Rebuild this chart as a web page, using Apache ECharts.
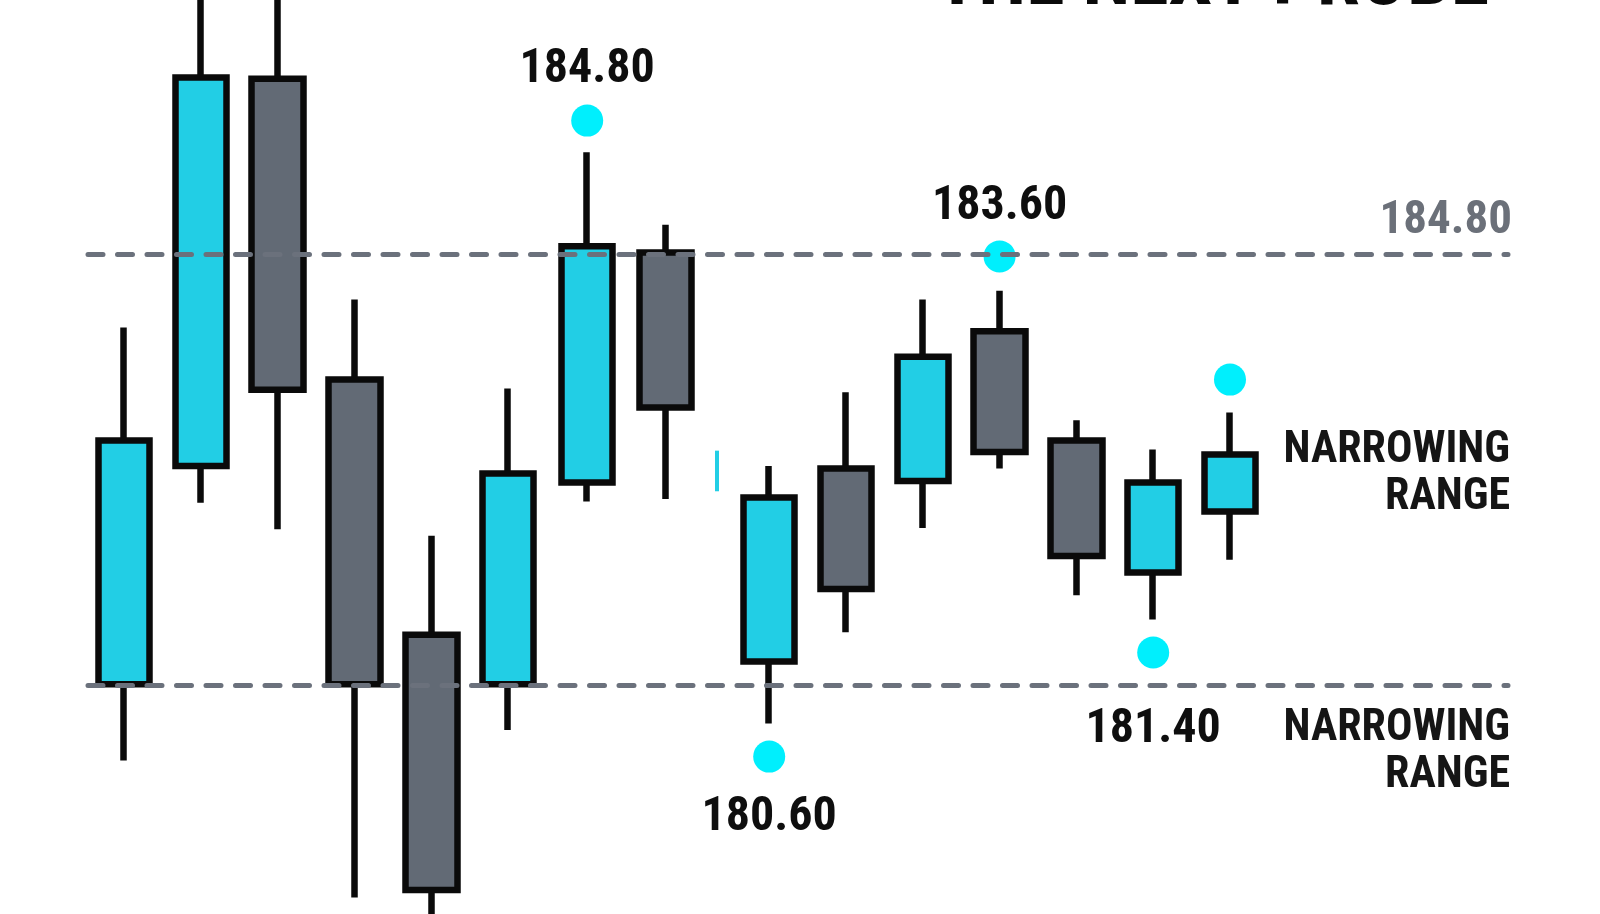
<!DOCTYPE html>
<html>
<head>
<meta charset="utf-8">
<style>
  html, body { margin: 0; padding: 0; background: #ffffff; }
  #chart { width: 1600px; height: 914px; }
</style>
<script src="https://cdn.jsdelivr.net/npm/echarts@6/dist/echarts.min.js"></script>
</head>
<body>
<div id="chart"></div>
<script>
// ---- data ----
const title = 'THE NEXT PROBE';
const slots = [0, 1, 2, 3, 4, 5, 6.03, 7.05, 8.4, 9.4, 10.4, 11.4, 12.4, 13.4, 14.4];
const openP  = [181.41, 183.13, 186.18, 183.81, 181.80, 181.41, 183.00, 184.81, 181.59, 183.11, 183.01, 184.19, 183.33, 182.29, 182.77];
const closeP = [183.33, 186.19, 183.73, 181.41, 179.79, 183.07, 184.86, 183.59, 182.88, 182.16, 183.99, 183.24, 182.42, 183.00, 183.22];
const lowP   = [180.81, 182.84, 182.63, 179.73, 179.24, 181.05, 182.85, 182.87, 181.10, 181.82, 182.64, 183.11, 182.11, 181.92, 182.39];
const highP  = [184.22, 187.20, 187.20, 184.44, 182.58, 183.74, 185.60, 185.03, 183.13, 183.71, 184.44, 184.51, 183.49, 183.26, 183.55];

const pivotSlots  = [6.03, 8.4, 11.4, 13.4, 14.4];
const pivotValues = [185.85, 180.84, 184.78, 181.66, 183.81];
const pivotLabels = ['184.80', '180.60', '183.60', '181.40', ''];

const levels      = [184.80, 181.40];
const levelLabels = ['184.80', ''];

const tickSlot   = [7.72, 7.72];
const tickValues = [183.25, 182.93];

const zoneLabels = ['NARROWING\nRANGE', 'NARROWING\nRANGE'];

// ---- styles ----
const FONT = "'Roboto Condensed', 'Liberation Sans Narrow', 'DejaVu Sans Condensed', 'Liberation Sans', sans-serif";
const CYAN = '#22CEE5';
const GRAY = '#626A75';
const INK = '#0A0A0A';
const DOT = '#00EFFD';
const pivotOffsets = [[0, -51], [0, 61], [0, -49], [0, 78], [0, 0]];

const candleData = slots.map((s, i) => [s, openP[i], closeP[i], lowP[i], highP[i]]);
const pivotData = pivotSlots.map((s, i) => ({
  value: [s, pivotValues[i]],
  label: { show: pivotLabels[i] !== '', formatter: pivotLabels[i], offset: pivotOffsets[i] }
}));

const chart = echarts.init(document.getElementById('chart'), null, { renderer: 'canvas' });
chart.setOption({
  backgroundColor: '#ffffff',
  animation: false,
  grid: { left: 88, right: 92, top: 0, bottom: 0, containLabel: false },
  xAxis: { type: 'value', min: -0.47, max: 18.02, show: false, splitLine: { show: false } },
  yAxis: { type: 'value', min: 179.6, max: 186.8, show: false, splitLine: { show: false }, scale: true },
  series: [
    {
      type: 'line',
      data: [],
      z: 1,
      silent: true,
      markLine: {
        silent: true,
        symbol: ['none', 'none'],
        animation: false,
        lineStyle: { type: [15, 14.5], cap: 'round', width: 5, color: '#6B717C' },
        label: { show: false },
        data: levels.map((v) => ({ yAxis: v }))
      }
    },
    {
      type: 'candlestick',
      z: 3,
      barWidth: 52,
      encode: { x: 0, y: [1, 2, 3, 4] },
      itemStyle: {
        color: CYAN,
        color0: GRAY,
        borderColor: INK,
        borderColor0: INK,
        borderWidth: 6.5
      },
      data: candleData
    },
    {
      type: 'line',
      z: 3,
      symbol: 'none',
      lineStyle: { color: CYAN, width: 4, cap: 'butt' },
      data: tickSlot.map((s, i) => [s, tickValues[i]])
    },
    {
      type: 'scatter',
      z: 4,
      symbol: 'circle',
      symbolSize: 32,
      itemStyle: { color: DOT, opacity: 1 },
      label: {
        show: true,
        position: 'inside',
        color: '#0E0E0E',
        opacity: 1,
        textBorderWidth: 0,
        textBorderColor: 'transparent',
        fontFamily: FONT,
        fontWeight: 'bold',
        fontSize: 48
      },
      data: pivotData
    }
  ],
  graphic: [
    {
      type: 'text', x: 936, y: -16, z: 10,
      style: { text: title, font: 'bold 78px ' + FONT, fill: '#0A0A0A', align: 'left', verticalAlign: 'middle' }
    },
    {
      type: 'text', x: 1512, y: 221, z: 10,
      style: { text: levelLabels[0], font: 'bold 47px ' + FONT, fill: '#6B7079', align: 'right', verticalAlign: 'middle' }
    },
    {
      type: 'text', x: 1510, y: 474, z: 10,
      style: { text: zoneLabels[0], font: 'bold 44px ' + FONT, fill: '#151515', align: 'right', verticalAlign: 'middle', lineHeight: 47 }
    },
    {
      type: 'text', x: 1510, y: 752, z: 10,
      style: { text: zoneLabels[1], font: 'bold 44px ' + FONT, fill: '#151515', align: 'right', verticalAlign: 'middle', lineHeight: 47 }
    }
  ]
});
</script>
</body>
</html>
